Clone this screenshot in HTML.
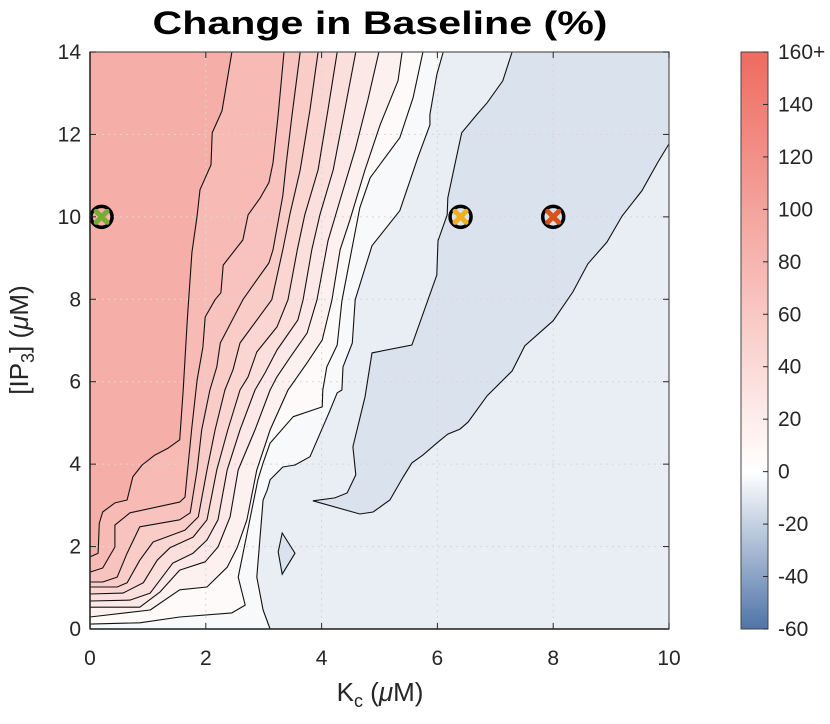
<!DOCTYPE html>
<html><head><meta charset="utf-8">
<style>
html,body{margin:0;padding:0;background:#fff;}
svg{display:block;font-family:"Liberation Sans",Arial,sans-serif;}
</style></head>
<body>
<svg id="chart" width="830" height="724" viewBox="0 0 830 724" xmlns="http://www.w3.org/2000/svg">
  <g id="fills"></g>
  <g id="grid"></g>
  <g id="lines"></g>
  <g id="markers"></g>
  <g id="axes"></g>
  <g id="cbar"></g>
  <text x="380" y="34" text-anchor="middle" font-size="32" font-weight="bold" fill="#000" textLength="455" lengthAdjust="spacingAndGlyphs">Change in Baseline (%)</text>
  <text x="380" y="701" text-anchor="middle" font-size="26" fill="#262626">K<tspan font-size="18" dy="6">c</tspan><tspan dy="-6"> (</tspan><tspan font-style="italic">μ</tspan>M)</text>
  <text transform="translate(28,340) rotate(-90)" text-anchor="middle" font-size="26" fill="#262626">[IP<tspan font-size="18" dy="6">3</tspan><tspan dy="-6">] (</tspan><tspan font-style="italic">μ</tspan>M)</text>
</svg>
<script>
// ---- data ----
const xTicks = [0, 2, 4, 6, 8, 10];
const yTicks = [0, 2, 4, 6, 8, 10, 12, 14];
const cbarTicks = [160, 140, 120, 100, 80, 60, 40, 20, 0, -20, -40, -60];
const cbarTickLabels = ["160+", "140", "120", "100", "80", "60", "40", "20", "0", "-20", "-40", "-60"];
const contourLevels = [80, 70, 60, 50, 40, 30, 20, 10, 0, -5];
const contourKc = [
 [2.45,2.28,2.11,2.09,1.90,1.85,1.76,1.68,1.61,1.55,1.35,1.12,0.90,0.74,0.64,0.43,0.22,0.16,0.14,0],
 [3.35,3.25,3.16,3.09,2.94,2.73,2.64,2.30,2.26,2.16,1.99,1.95,1.85,1.76,1.69,1.64,1.55,0.69,0.43,0.43,0.22,0],
 [3.63,3.49,3.39,3.33,3.16,3.09,2.88,2.64,2.25,2.19,2.07,1.93,1.85,1.73,1.55,0.86,0.64,0.47,0.22,0],
 [3.94,3.80,3.63,3.45,3.33,3.14,2.59,2.47,2.33,2.16,2.02,1.87,1.64,1.09,0.86,0.64,0.47,0],
 [4.27,4.11,3.94,3.71,3.58,3.42,3.23,2.88,2.73,2.59,2.38,2.19,2.02,1.78,1.38,1.16,0.92,0.57,0],
 [4.59,4.40,4.20,3.97,3.83,3.68,3.59,3.23,3.02,2.85,2.59,2.37,2.21,2.02,1.78,1.43,1.04,0.69,0],
 [4.99,4.80,4.58,4.32,4.11,3.92,3.75,3.45,3.23,3.11,2.85,2.56,2.42,2.21,1.99,1.55,1.21,0.86,0],
 [5.39,5.32,5.01,4.75,4.49,4.32,4.18,4.01,3.75,3.54,3.42,3.11,2.88,2.71,2.54,2.37,2.02,1.55,1.04,0],
 [5.75,5.58,5.35,4.84,4.66,4.35,4.27,4.09,4.02,4.01,3.51,3.11,2.99,2.90,2.76,2.56,2.68,2.45,1.55,0.86,0],
 [6.10,5.99,5.87,5.87,5.66,5.35,4.87,4.58,4.53,4.37,4.35,4.27,4.15,3.80,3.54,3.33,3.11,3.06,2.99,2.88,2.99,3.11]
];
const contourIp3 = [
 [14,12.57,12.04,11.26,10.66,10.02,9.13,7.50,5.80,4.59,4.39,4.22,3.98,3.69,3.13,3.06,2.84,2.57,1.84,1.75],
 [14,12.48,11.31,10.83,10.46,10.05,9.44,8.83,8.16,7.99,7.57,6.84,6.04,4.90,3.93,3.20,3.08,2.82,2.52,1.99,1.48,1.38],
 [14,12.48,11.31,10.51,9.20,8.88,8.47,7.99,6.94,6.36,5.80,4.83,3.86,2.82,2.65,2.48,1.84,1.26,1.14,1.14],
 [14,12.60,11.14,10.05,9.20,7.99,6.94,6.29,5.80,4.83,3.86,2.72,2.40,2.11,1.67,1.12,1.02,1.02],
 [14,12.60,11.14,10.05,9.20,7.99,7.33,6.72,6.12,5.80,4.83,3.86,2.65,2.23,1.97,1.67,1.12,0.87,0.85],
 [14,12.60,11.14,10.05,9.20,7.99,7.50,6.77,6.21,5.80,4.83,3.86,2.65,2.16,1.84,1.60,0.87,0.70,0.68],
 [14,12.84,11.63,10.41,9.42,7.99,7.18,6.58,6.12,5.80,4.83,3.86,2.72,1.99,1.63,1.43,0.90,0.53,0.53],
 [14,13.30,12.23,11.14,9.93,9.20,7.99,7.01,6.46,6.04,5.80,4.83,3.86,2.65,1.97,1.50,1.02,0.95,0.46,0.29],
 [14,12.89,11.92,10.95,10.22,7.96,6.89,6.36,5.80,5.39,5.15,4.51,4.03,3.62,2.65,1.26,0.58,0.39,0.29,0.15,0.12],
 [14,13.45,12.48,12.23,11.43,10.15,9.30,7.99,6.94,6.36,5.80,5.73,5.32,4.18,3.98,3.93,3.62,3.37,3.13,1.26,0.46,0]
];
const innerLevel = -10;
const innerKc = [7.29,7.13,6.86,6.68,6.42,6.30,6.18,6.17,6.01,5.99,5.56,4.87,4.75,4.54,4.59,4.44,4.23,3.85,4.66,4.89,5.18,5.41,5.56,5.75,5.99,6.18,6.39,6.53,6.86,7.29,7.51,8.00,8.34,8.60,8.93,9.19,9.53,9.81,10,10];
const innerIp3 = [14,13.30,12.77,12.48,12.04,11.26,10.46,10.05,9.42,8.59,6.89,6.70,5.63,4.42,3.74,3.30,3.18,3.11,2.79,2.84,3.13,3.69,4.03,4.22,4.51,4.73,4.85,5.02,5.66,6.26,6.87,7.48,8.18,8.86,9.39,10.02,10.63,11.33,11.77,14];
const islandKc = [3.32,3.54,3.32,3.25];
const islandIp3 = [2.33,1.84,1.33,1.87];
const markerKc = [0.2, 6.4, 8.0];
const markerIp3 = [10, 10, 10];
const markerColors = ["#77ac30", "#edb120", "#d95319"];
const cbarMin = -60, cbarMax = 160;

// ---- layout ----
const PX0 = 90, PX1 = 669, PY0 = 629, PY1 = 52;
const xs = v => PX0 + (v - 0) / 10 * (PX1 - PX0);
const ys = v => PY0 - (v - 0) / 14 * (PY0 - PY1);
const CB = {x: 741, w: 27, top: 52, bot: 629};
const cs = v => CB.bot - (v - cbarMin) / (cbarMax - cbarMin) * (CB.bot - CB.top);
const NS = "http://www.w3.org/2000/svg";
function mk(tag, attrs, parent) {
  const e = document.createElementNS(NS, tag);
  for (const k in attrs) e.setAttribute(k, attrs[k]);
  parent.appendChild(e);
  return e;
}
function colorOf(v) {
  let r, g, b;
  if (v >= 0) { const t = Math.min(v / 160, 1); r = 255 + t * (238 - 255); g = 255 + t * (107 - 255); b = 255 + t * (96 - 255); }
  else { const t = Math.min(-v / 60, 1); r = 255 + t * (79 - 255); g = 255 + t * (116 - 255); b = 255 + t * (168 - 255); }
  return `rgb(${Math.round(r)},${Math.round(g)},${Math.round(b)})`;
}
const fills = document.getElementById('fills');
const lines = document.getElementById('lines');
const grid = document.getElementById('grid');
const axes = document.getElementById('axes');
const cbar = document.getElementById('cbar');
const markers = document.getElementById('markers');

const bg = mk('rect', {x: PX0, y: PY1, width: PX1 - PX0, height: PY0 - PY1, fill: colorOf((contourLevels[contourLevels.length - 1] + innerLevel) / 2)}, fills);



function ptsStr(kc, ip) { return kc.map((k, i) => xs(k).toFixed(1) + ',' + ys(ip[i]).toFixed(1)).join(' '); }
const innerFill = colorOf(innerLevel - 2.5);
const inner = mk('polygon', {points: ptsStr(innerKc, innerIp3), fill: innerFill, stroke: 'none'}, fills);


const island = mk('polygon', {points: ptsStr(islandKc, islandIp3), fill: innerFill, stroke: 'none'}, fills);



for (let i = contourLevels.length - 1; i >= 0; i--) {
  const kc = contourKc[i].slice(), ip = contourIp3[i].slice();
  const lastK = kc[kc.length - 1], lastI = ip[ip.length - 1];
  if (!(lastK === 0 && lastI > 0)) { kc.push(0); ip.push(0); }
  kc.push(0); ip.push(14);
  const fv = i === 0 ? contourLevels[0] + 8 : (contourLevels[i] + contourLevels[i - 1]) / 2;
  const p = mk('polygon', {points: ptsStr(kc, ip), fill: colorOf(fv), stroke: 'none'}, fills);
  
  
}

xTicks.forEach(t => {
  const l = mk('line', {x1: xs(t), x2: xs(t), y1: PY1, y2: PY0, stroke: '#d8d8d8', 'stroke-width': 1, 'stroke-dasharray': '2,4'}, grid);
  
  
});
yTicks.forEach(t => {
  const l = mk('line', {x1: PX0, x2: PX1, y1: ys(t), y2: ys(t), stroke: '#d8d8d8', 'stroke-width': 1, 'stroke-dasharray': '2,4'}, grid);
  
  
});

for (let i = 0; i < contourLevels.length; i++) {
  const pl = mk('polyline', {points: ptsStr(contourKc[i], contourIp3[i]), fill: 'none', stroke: '#111', 'stroke-width': 1.1, 'stroke-linejoin': 'round'}, lines);
  
  
}
const innerLine = mk('polyline', {points: ptsStr(innerKc.slice(0, -1), innerIp3.slice(0, -1)), fill: 'none', stroke: '#111', 'stroke-width': 1.1}, lines);


const islandLine = mk('polygon', {points: ptsStr(islandKc, islandIp3), fill: 'none', stroke: '#111', 'stroke-width': 1.1}, lines);



markerKc.forEach((k, i) => {
  const cx = xs(k), cy = ys(markerIp3[i]);
  const g = mk('g', {}, markers);
  
  
  mk('circle', {cx: cx, cy: cy, r: 10.5, fill: 'none', stroke: '#000', 'stroke-width': 3.5}, g);
  mk('path', {d: `M${cx-5.5},${cy-5.5}L${cx+5.5},${cy+5.5}M${cx+5.5},${cy-5.5}L${cx-5.5},${cy+5.5}`, stroke: markerColors[i], 'stroke-width': 5, 'stroke-linecap': 'round'}, g);
});

const box = mk('rect', {x: PX0, y: PY1, width: PX1 - PX0, height: PY0 - PY1, fill: 'none', stroke: '#555', 'stroke-width': 1.2}, axes);


mk('line', {x1: PX0, x2: PX0, y1: PY1, y2: PY0, stroke: '#262626', 'stroke-width': 1.5}, axes);
mk('line', {x1: PX0, x2: PX1, y1: PY0, y2: PY0, stroke: '#262626', 'stroke-width': 1.5}, axes);
xTicks.forEach(t => {
  mk('line', {x1: xs(t), x2: xs(t), y1: PY0, y2: PY0 - 6, stroke: '#262626', 'stroke-width': 1}, axes);
  mk('line', {x1: xs(t), x2: xs(t), y1: PY1, y2: PY1 + 6, stroke: '#262626', 'stroke-width': 1}, axes);
  const tx = mk('text', {x: xs(t), y: 665, 'text-anchor': 'middle', 'font-size': 21, fill: '#262626'}, axes);
  tx.textContent = t;
  
  
});
yTicks.forEach(t => {
  mk('line', {x1: PX0, x2: PX0 + 6, y1: ys(t), y2: ys(t), stroke: '#262626', 'stroke-width': 1}, axes);
  mk('line', {x1: PX1, x2: PX1 - 6, y1: ys(t), y2: ys(t), stroke: '#262626', 'stroke-width': 1}, axes);
  const tx = mk('text', {x: 81, y: ys(t) + 7, 'text-anchor': 'end', 'font-size': 21, fill: '#262626'}, axes);
  tx.textContent = t;
  
  
});

const defs = mk('defs', {}, cbar);
const grad = mk('linearGradient', {id: 'cbg', x1: 0, y1: 1, x2: 0, y2: 0}, defs);
for (let v = cbarMin; v <= cbarMax; v += 10) {
  mk('stop', {offset: ((v - cbarMin) / (cbarMax - cbarMin)).toFixed(4), 'stop-color': colorOf(v)}, grad);
}
const cbRect = mk('rect', {x: CB.x, y: CB.top, width: CB.w, height: CB.bot - CB.top, fill: 'url(#cbg)', stroke: '#444', 'stroke-width': 1}, cbar);


cbarTicks.forEach((t, i) => {
  const y = cs(t);
  mk('line', {x1: CB.x + CB.w, x2: CB.x + CB.w - 5, y1: y, y2: y, stroke: '#262626', 'stroke-width': 1}, cbar);
  const tx = mk('text', {x: 778, y: y + 7, 'font-size': 21, fill: '#262626'}, cbar);
  tx.textContent = cbarTickLabels[i];
  
  
});
</script>
</body></html>
